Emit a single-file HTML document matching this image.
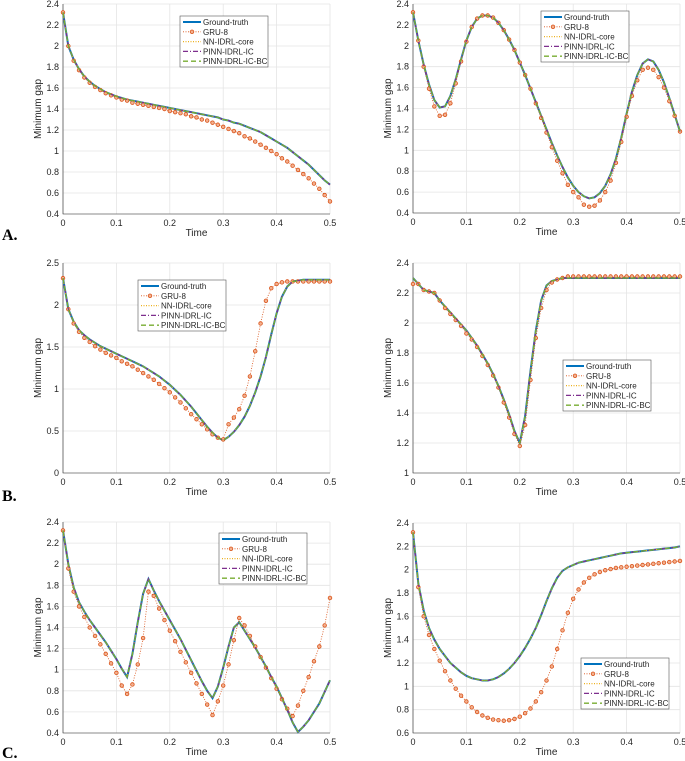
<!DOCTYPE html>
<html><head><meta charset="utf-8">
<style>
html,body{margin:0;padding:0;background:#fff;}
svg{display:block;font-family:"Liberation Sans",sans-serif;}
</style></head>
<body>
<svg id="fig" width="685" height="761" viewBox="0 0 685 761">
<text x="2" y="240" font-family="Liberation Serif" font-weight="bold" font-size="16">A.</text>
<text x="2" y="501" font-family="Liberation Serif" font-weight="bold" font-size="16">B.</text>
<text x="2" y="758" font-family="Liberation Serif" font-weight="bold" font-size="16">C.</text>
</svg>
<script>
const tickX = [0, 0.1, 0.2, 0.3, 0.4, 0.5];
const seriesNames = ["Ground-truth","GRU-8","NN-IDRL-core","PINN-IDRL-IC","PINN-IDRL-IC-BC"];

const gtA = [2.32,2.0,1.87,1.78,1.71,1.66,1.62,1.59,1.56,1.54,1.52,1.505,1.49,1.48,1.47,1.46,1.45,1.44,1.43,1.42,1.41,1.40,1.39,1.38,1.37,1.36,1.35,1.34,1.33,1.32,1.30,1.29,1.27,1.26,1.24,1.22,1.20,1.18,1.15,1.12,1.09,1.06,1.03,0.99,0.95,0.91,0.87,0.82,0.77,0.72,0.68];
const gruA = [2.32,2.0,1.86,1.77,1.70,1.65,1.61,1.58,1.55,1.53,1.51,1.49,1.48,1.46,1.45,1.44,1.43,1.42,1.41,1.40,1.38,1.37,1.36,1.35,1.33,1.32,1.30,1.29,1.27,1.25,1.23,1.21,1.19,1.17,1.14,1.12,1.09,1.06,1.03,1.00,0.97,0.93,0.90,0.86,0.82,0.78,0.74,0.69,0.64,0.58,0.52];
const ticksA = [0.4,0.6,0.8,1,1.2,1.4,1.6,1.8,2,2.2,2.4];

const gtD = [2.32,2.05,1.82,1.63,1.48,1.41,1.42,1.52,1.68,1.87,2.05,2.18,2.26,2.29,2.29,2.27,2.22,2.15,2.06,1.96,1.84,1.72,1.59,1.46,1.33,1.20,1.07,0.95,0.84,0.74,0.66,0.60,0.56,0.54,0.55,0.59,0.66,0.77,0.92,1.12,1.35,1.56,1.72,1.83,1.87,1.85,1.77,1.65,1.50,1.34,1.18];
const gruD = [2.32,2.05,1.80,1.59,1.42,1.33,1.34,1.45,1.64,1.85,2.04,2.18,2.26,2.29,2.29,2.27,2.22,2.15,2.06,1.96,1.84,1.72,1.59,1.45,1.31,1.17,1.03,0.90,0.78,0.67,0.60,0.55,0.48,0.46,0.47,0.52,0.60,0.71,0.88,1.08,1.32,1.52,1.67,1.77,1.79,1.77,1.70,1.60,1.47,1.33,1.18];
const ticksD = [0.4,0.6,0.8,1,1.2,1.4,1.6,1.8,2,2.2,2.4];

const gtB = [2.32,1.95,1.80,1.70,1.64,1.59,1.55,1.51,1.48,1.45,1.42,1.39,1.36,1.33,1.30,1.27,1.23,1.19,1.15,1.10,1.05,0.99,0.93,0.86,0.79,0.71,0.63,0.55,0.48,0.42,0.39,0.43,0.49,0.57,0.67,0.80,0.96,1.15,1.38,1.65,1.90,2.10,2.22,2.28,2.29,2.30,2.30,2.30,2.30,2.30,2.30];
const gruB = [2.32,1.95,1.78,1.68,1.61,1.56,1.51,1.47,1.43,1.40,1.37,1.33,1.30,1.27,1.23,1.19,1.15,1.11,1.06,1.01,0.96,0.90,0.84,0.77,0.70,0.64,0.58,0.52,0.46,0.42,0.40,0.58,0.66,0.76,0.92,1.15,1.45,1.78,2.05,2.20,2.25,2.27,2.28,2.28,2.28,2.28,2.28,2.28,2.28,2.28,2.28];
const ticksB = [0,0.5,1,1.5,2,2.5];

const gtE = [2.30,2.26,2.22,2.21,2.20,2.15,2.11,2.07,2.03,1.99,1.95,1.90,1.85,1.79,1.73,1.66,1.58,1.49,1.39,1.28,1.20,1.38,1.68,1.95,2.15,2.25,2.28,2.29,2.30,2.30,2.30,2.30,2.30,2.30,2.30,2.30,2.30,2.30,2.30,2.30,2.30,2.30,2.30,2.30,2.30,2.30,2.30,2.30,2.30,2.30,2.30];
const gruE = [2.26,2.26,2.22,2.21,2.20,2.15,2.10,2.06,2.02,1.98,1.93,1.89,1.84,1.78,1.72,1.65,1.57,1.47,1.37,1.26,1.18,1.32,1.62,1.90,2.10,2.22,2.27,2.29,2.30,2.31,2.31,2.31,2.31,2.31,2.31,2.31,2.31,2.31,2.31,2.31,2.31,2.31,2.31,2.31,2.31,2.31,2.31,2.31,2.31,2.31,2.31];
const ticksE = [1,1.2,1.4,1.6,1.8,2,2.2,2.4];

const gtC = [2.32,2.0,1.78,1.64,1.55,1.47,1.40,1.33,1.26,1.18,1.10,1.01,0.93,1.15,1.45,1.72,1.86,1.75,1.65,1.56,1.47,1.38,1.29,1.19,1.09,0.99,0.89,0.80,0.73,0.84,1.02,1.22,1.40,1.45,1.37,1.29,1.21,1.12,1.03,0.93,0.84,0.73,0.62,0.50,0.41,0.46,0.52,0.60,0.68,0.79,0.90];
const gruC = [2.32,1.96,1.74,1.60,1.50,1.40,1.32,1.24,1.15,1.06,0.97,0.85,0.77,0.86,1.05,1.30,1.74,1.70,1.58,1.47,1.37,1.27,1.17,1.07,0.97,0.87,0.77,0.67,0.57,0.70,0.85,1.05,1.28,1.49,1.42,1.32,1.22,1.12,1.02,0.92,0.82,0.72,0.63,0.56,0.66,0.80,0.93,1.08,1.22,1.42,1.68];
const ticksC = [0.4,0.6,0.8,1,1.2,1.4,1.6,1.8,2,2.2,2.4];

const gtF = [2.32,1.88,1.65,1.50,1.40,1.32,1.26,1.20,1.16,1.12,1.09,1.07,1.06,1.05,1.05,1.06,1.08,1.11,1.15,1.20,1.26,1.33,1.41,1.50,1.61,1.73,1.84,1.93,1.99,2.02,2.04,2.06,2.07,2.08,2.09,2.10,2.11,2.12,2.13,2.14,2.145,2.15,2.155,2.16,2.165,2.17,2.175,2.18,2.185,2.19,2.20];
const gruF = [2.32,1.85,1.60,1.44,1.32,1.22,1.13,1.05,0.98,0.92,0.87,0.82,0.78,0.75,0.73,0.715,0.71,0.705,0.71,0.72,0.74,0.77,0.81,0.87,0.95,1.05,1.17,1.32,1.48,1.63,1.75,1.83,1.89,1.93,1.96,1.98,1.995,2.005,2.015,2.02,2.025,2.03,2.035,2.04,2.045,2.05,2.055,2.06,2.065,2.07,2.075];
const ticksF = [0.6,0.8,1,1.2,1.4,1.6,1.8,2,2.2,2.4];

const NS = "http://www.w3.org/2000/svg";
const svg = document.getElementById("fig");
function mk(tag, attrs, parent){ const e=document.createElementNS(NS,tag); for(const k in attrs) e.setAttribute(k,attrs[k]); (parent||svg).appendChild(e); return e; }

const panels = [
 {id:"a-left", gt:gtA, gru:gruA, ticks:ticksA, x0:63, x1:330, yT:4, yB:214, lg:[180,16]},
 {id:"a-right", gt:gtD, gru:gruD, ticks:ticksD, x0:413, x1:680, yT:4, yB:213, lg:[541,11]},
 {id:"b-left", gt:gtB, gru:gruB, ticks:ticksB, x0:63, x1:330, yT:263, yB:473, lg:[138,280]},
 {id:"b-right", gt:gtE, gru:gruE, ticks:ticksE, x0:413, x1:680, yT:263, yB:473, lg:[563,360]},
 {id:"c-left", gt:gtC, gru:gruC, ticks:ticksC, x0:63, x1:330, yT:522, yB:733, lg:[219,533]},
 {id:"c-right", gt:gtF, gru:gruF, ticks:ticksF, x0:413, x1:680, yT:523, yB:733, lg:[581,658]}
];

panels.forEach(p=>{
  const g = mk("g",{});
  
  
  const ymin=p.ticks[0], ymax=p.ticks[p.ticks.length-1];
  const X = t => p.x0 + (t-0)/(0.5)*(p.x1-p.x0);
  const Y = v => p.yB - (v-ymin)/(ymax-ymin)*(p.yB-p.yT);
  // grid
  tickX.forEach(t=>{
    const l=mk("line",{x1:X(t),x2:X(t),y1:p.yT,y2:p.yB,stroke:"#e4e4e4","stroke-width":0.8},g);
    
    
    const tx=mk("text",{x:X(t),y:p.yB+12,"text-anchor":"middle","font-size":9,fill:"#262626"},g);
    tx.textContent=String(t);
    
    
  });
  p.ticks.forEach(v=>{
    const l=mk("line",{x1:p.x0,x2:p.x1,y1:Y(v),y2:Y(v),stroke:"#e4e4e4","stroke-width":0.8},g);
    
    
    const tx=mk("text",{x:p.x0-4,y:Y(v)+3,"text-anchor":"end","font-size":9,fill:"#262626"},g);
    tx.textContent=String(v);
    
    
  });
  const ax=mk("path",{d:`M${p.x0},${p.yT}V${p.yB}H${p.x1}`,fill:"none",stroke:"#262626","stroke-width":0.6},g);
  
  
  const xl=mk("text",{x:(p.x0+p.x1)/2,y:p.yB+22,"text-anchor":"middle","font-size":10,fill:"#262626"},g);
  xl.textContent="Time";
  
  
  const yx=p.x0-22, yy=(p.yT+p.yB)/2;
  const yl=mk("text",{x:yx,y:yy,"text-anchor":"middle","font-size":10,fill:"#262626",transform:`rotate(-90 ${yx} ${yy})`},g);
  yl.textContent="Minimum gap";
  
  

  const pts = arr => arr.map((v,i)=>`${X(i*0.01).toFixed(2)},${Y(v).toFixed(2)}`).join(" ");
  const styles = [
    {stroke:"#0072BD","stroke-width":2,fill:"none"},
    null,
    {stroke:"#EDB120","stroke-width":1.2,fill:"none","stroke-dasharray":"1 1.5"},
    {stroke:"#7E2F8E","stroke-width":1.3,fill:"none","stroke-dasharray":"5 2 1 2"},
    {stroke:"#77AC30","stroke-width":1.3,fill:"none","stroke-dasharray":"5 3"}
  ];
  const gl=mk("polyline",Object.assign({points:pts(p.gt)},styles[0]),g);
  
  
  const rl=mk("polyline",{points:pts(p.gru),stroke:"#D95319","stroke-width":0.8,fill:"none","stroke-dasharray":"1 1.5"},g);
  
  
  p.gru.forEach((v,i)=>{
    const c=mk("circle",{cx:X(i*0.01),cy:Y(v),r:1.8,fill:"#f3b08f",stroke:"#D95319","stroke-width":0.8},g);
    
    
  });
  const names=["","","nn-idrl-core-line","pinn-idrl-ic-line","pinn-idrl-ic-bc-line"];
  [2,3,4].forEach(k=>{
    const l=mk("polyline",Object.assign({points:pts(p.gt)},styles[k]),g);
    
    
  });
  // legend
  const [lx,ly]=p.lg;
  const lgG=mk("g",{},g);
  
  
  mk("rect",{x:lx,y:ly,width:88,height:51,fill:"#fff",stroke:"#555","stroke-width":0.6},lgG);
  seriesNames.forEach((n,k)=>{
    const yy2=ly+6+k*9.8;
    const e=mk("g",{},lgG);
    
    
    if(k===1){
      mk("line",{x1:lx+3,x2:lx+21,y1:yy2,y2:yy2,stroke:"#D95319","stroke-width":0.8,"stroke-dasharray":"1 1.5"},e);
      mk("circle",{cx:lx+12,cy:yy2,r:1.8,fill:"#f3b08f",stroke:"#D95319","stroke-width":0.8},e);
    } else {
      mk("line",Object.assign({x1:lx+3,x2:lx+21,y1:yy2,y2:yy2},styles[k]),e);
    }
    const t=mk("text",{x:lx+23,y:yy2+3,"font-size":8,fill:"#262626"},e);
    t.textContent=n;
  });
});
</script>
</body></html>
